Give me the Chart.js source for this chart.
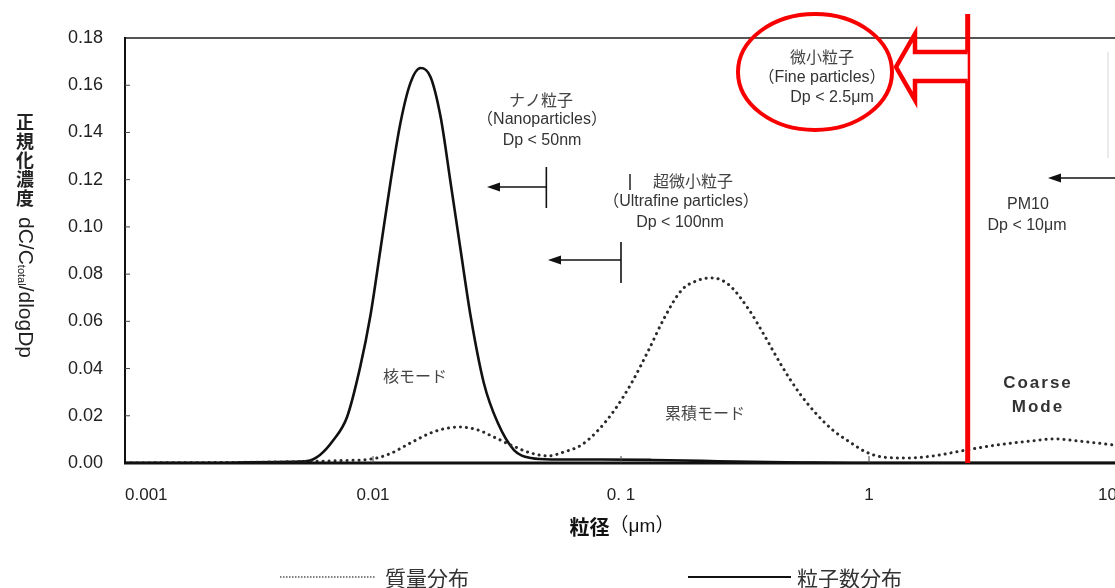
<!DOCTYPE html>
<html><head><meta charset="utf-8">
<script src="https://cdn.jsdelivr.net/npm/chart.js@4.4.1/dist/chart.umd.min.js"></script>
<style>
html,body{margin:0;padding:0;background:#fff;overflow:hidden;width:1115px;height:588px;}
#wrap{position:absolute;left:0;top:0;width:1140px;height:588px;}
</style></head><body>
<div id="wrap"><canvas id="c"></canvas></div>
<script>
// ---- data ----
const xTicks = [0.001, 0.01, 0.1, 1, 10];
const xTickLabels = ['0.001', '0.01', '0. 1', '1', '10'];
const yTicks = [0, 0.02, 0.04, 0.06, 0.08, 0.10, 0.12, 0.14, 0.16, 0.18];

// 粒子数分布 (number distribution, solid)
const numberSize  = [0.001, 0.0025, 0.00318, 0.00462, 0.00542, 0.00611, 0.0069, 0.00786, 0.00888, 0.00974, 0.0107, 0.01175, 0.0129, 0.01416, 0.01554, 0.01706, 0.01873, 0.02056, 0.02257, 0.02479, 0.02798, 0.03188, 0.03702, 0.04338, 0.05228, 0.0834, 0.1329, 0.212, 0.338, 0.539, 0.859, 10];
const numberValue = [0, 0, 0.0003, 0.0005, 0.0008, 0.0034, 0.0095, 0.0195, 0.0407, 0.0618, 0.090, 0.1186, 0.144, 0.161, 0.1673, 0.1635, 0.1466, 0.1186, 0.090, 0.0618, 0.0339, 0.0169, 0.0055, 0.0021, 0.0015, 0.0015, 0.0013, 0.0009, 0.0005, 0.0002, 0, 0];

// 質量分布 (mass distribution, dotted)
const massSize  = [0.001, 0.00318, 0.00507, 0.00737, 0.01002, 0.01175, 0.01416, 0.01706, 0.02, 0.02257, 0.02645, 0.03072, 0.03599, 0.04338, 0.05083, 0.05902, 0.06918, 0.08105, 0.09412, 0.1103, 0.1293, 0.1501, 0.1759, 0.2062, 0.2327, 0.2728, 0.3286, 0.3816, 0.4472, 0.5242, 0.6085, 0.7131, 0.8356, 0.9701, 1.137, 1.409, 1.813, 2.467, 3.264, 4.482, 5.555, 7.146, 10];
const massValue = [0, 0.0003, 0.0006, 0.001, 0.0018, 0.004, 0.0085, 0.0127, 0.0148, 0.0152, 0.014, 0.011, 0.0076, 0.0042, 0.003, 0.0047, 0.0076, 0.014, 0.0224, 0.0339, 0.0479, 0.0618, 0.0733, 0.0775, 0.0784, 0.0754, 0.0648, 0.0534, 0.0407, 0.0296, 0.0212, 0.014, 0.0089, 0.0047, 0.0025, 0.0021, 0.003, 0.0055, 0.0076, 0.0093, 0.0102, 0.0092, 0.0075];

const FONT = '"Liberation Sans", Arial, "Noto Sans CJK JP", sans-serif';
const JP = '"Noto Sans CJK JP", "Liberation Sans", sans-serif';
const RED = '#f80000';

function pts(xs, ys){ return xs.map((x,i)=>({x:x, y:ys[i]})); }

const annot = {
  id: 'annot',
  afterDraw(chart){
    const {ctx, chartArea:a, scales:{x:xs, y:ys}} = chart;
    const W = chart.width;
    ctx.save();
    function line(x1,y1,x2,y2){ ctx.beginPath(); ctx.moveTo(x1,y1); ctx.lineTo(x2,y2); ctx.stroke(); }
    function txt(s,x,y,font,color,align){ ctx.font=font; ctx.fillStyle=color; ctx.textAlign=align||'center'; ctx.textBaseline='middle'; ctx.fillText(s,x,y); }
    function arrowLeft(tipX, y, fromX){
      ctx.strokeStyle='#111'; ctx.lineWidth=1.6; line(tipX+8, y, fromX, y);
      ctx.fillStyle='#111'; ctx.beginPath(); ctx.moveTo(tipX,y); ctx.lineTo(tipX+13,y-4.5); ctx.lineTo(tipX+13,y+4.5); ctx.closePath(); ctx.fill();
    }
    // frame
    ctx.lineCap='butt';
    ctx.strokeStyle='#555'; ctx.lineWidth=2; line(a.left, a.top, W, a.top);
    ctx.strokeStyle='#111'; ctx.lineWidth=2; line(a.left, a.top-1, a.left, a.bottom);
    ctx.lineWidth=3; line(a.left-1, a.bottom, W, a.bottom);
    // inner ticks
    ctx.lineWidth=1; ctx.strokeStyle='#444';
    yTicks.slice(1, -1).forEach(v => { const p = ys.getPixelForValue(v); line(a.left, p, a.left+5, p); });
    xTicks.slice(1, -1).forEach(v => { const p = xs.getPixelForValue(v); line(p, a.bottom, p, a.bottom-7); });

    // Nanoparticles
    const L16 = '16px ' + FONT, J16 = '16px ' + JP;
    txt('ナノ粒子', 541, 100, J16, '#444');
    txt('（Nanoparticles）', 542, 120, L16, '#333');
    txt('Dp < 50nm', 542, 141, L16, '#333');
    const b1 = xs.getPixelForValue(0.05);
    ctx.strokeStyle='#111'; ctx.lineWidth=1.6; line(b1, 167, b1, 208);
    arrowLeft(487, 187, b1);
    // Ultrafine
    ctx.strokeStyle='#222'; ctx.lineWidth=1.5; line(630, 174, 630, 190);
    txt('超微小粒子', 693, 181, J16, '#444');
    txt('（Ultrafine particles）', 681, 202, L16, '#333');
    txt('Dp < 100nm', 680, 223, L16, '#333');
    const b2 = xs.getPixelForValue(0.1);
    ctx.strokeStyle='#111'; ctx.lineWidth=1.6; line(b2, 242, b2, 283);
    arrowLeft(548, 260, b2);
    // PM10
    txt('PM10', 1028, 205, L16, '#333');
    txt('Dp < 10μm', 1027, 226, L16, '#333');
    arrowLeft(1048, 178, W);
    ctx.strokeStyle='#e4e4e4'; ctx.lineWidth=1.5; line(1108, 52, 1108, 158);
    // modes
    txt('核モード', 415, 376, J16, '#444');
    txt('累積モード', 705, 413, J16, '#444');
    ctx.letterSpacing = '2px';
    txt('Coarse', 1038, 383, 'bold 17px ' + FONT, '#333');
    txt('Mode', 1038, 407, 'bold 17px ' + FONT, '#333');
    ctx.letterSpacing = '0px';

    // red PM2.5 boundary
    const r = xs.getPixelForValue(2.5);
    ctx.strokeStyle=RED; ctx.lineWidth=5; line(r, 14, r, a.bottom);
    // hollow arrow
    ctx.lineWidth=4.5; ctx.lineJoin='miter';
    ctx.beginPath();
    ctx.moveTo(r, 52); ctx.lineTo(915, 52); ctx.lineTo(915, 34); ctx.lineTo(896, 67);
    ctx.lineTo(915, 100); ctx.lineTo(915, 81); ctx.lineTo(r, 81);
    ctx.fillStyle='#fff'; ctx.fill(); ctx.stroke();
    // ellipse
    ctx.lineWidth=4; ctx.beginPath(); ctx.ellipse(815, 72, 77, 58, 0, 0, Math.PI*2); ctx.stroke();
    txt('微小粒子', 822, 57, J16, '#444');
    txt('（Fine particles）', 822, 78, L16, '#333');
    txt('Dp < 2.5μm', 832, 98, L16, '#333');

    // y-axis title
    const yc = ['正','規','化','濃','度'];
    yc.forEach((c,i) => txt(c, 25, 122 + i*19, 'bold 18px ' + JP, '#222'));
    ctx.save();
    ctx.translate(25, 217); ctx.rotate(Math.PI/2);
    ctx.font = '21px ' + FONT; ctx.fillStyle='#222'; ctx.textAlign='left'; ctx.textBaseline='middle';
    ctx.fillText('dC/C', 0, 0);
    let w = ctx.measureText('dC/C').width;
    ctx.font = '11px ' + FONT; ctx.fillText('total', w, 4);
    w += ctx.measureText('total').width;
    ctx.font = '21px ' + FONT; ctx.fillText('/dlogDp', w, 0);
    ctx.restore();

    // x-axis title
    ctx.font = 'bold 20px ' + JP;
    const t1 = '粒径', t2 = '（μm）';
    const w1 = ctx.measureText(t1).width;
    ctx.font = '19px ' + FONT;
    const w2 = ctx.measureText(t2).width;
    const sx = 622 - (w1 + w2)/2;
    txt(t1, sx, 527, 'bold 20px ' + JP, '#111', 'left');
    txt(t2, sx + w1, 527, '19px ' + FONT, '#111', 'left');

    // legend
    ctx.strokeStyle='#555'; ctx.lineWidth=1.5; ctx.setLineDash([1.5, 1.5]); line(280, 577, 376, 577);
    ctx.setLineDash([]);
    txt('質量分布', 385, 578, '21px ' + JP, '#333', 'left');
    ctx.strokeStyle='#111'; ctx.lineWidth=2; line(688, 577, 791, 577);
    txt('粒子数分布', 797, 578, '21px ' + JP, '#333', 'left');
    ctx.restore();
  }
};

new Chart(document.getElementById('c'), {
  type: 'line',
  data: {
    datasets: [
      { label: '質量分布', data: pts(massSize, massValue), borderColor: '#2a2a2a', borderWidth: 3,
        borderDash: [0.1, 5.9], borderCapStyle: 'round', pointRadius: 0, cubicInterpolationMode: 'monotone', fill: false },
      { label: '粒子数分布', data: pts(numberSize, numberValue), borderColor: '#111', borderWidth: 2.6,
        pointRadius: 0, cubicInterpolationMode: 'monotone', fill: false }
    ]
  },
  options: {
    responsive: true, maintainAspectRatio: false, animation: false,
    layout: { padding: { top: 38, right: 23, left: 0, bottom: 0 } },
    plugins: { legend: { display: false }, tooltip: { enabled: false } },
    scales: {
      x: {
        type: 'logarithmic', min: 0.001, max: 10,
        afterBuildTicks: s => { s.ticks = xTicks.map(v => ({ value: v })); },
        afterFit: s => { s.height = 125; },
        ticks: { callback: v => { const i = xTicks.indexOf(v); return i >= 0 ? xTickLabels[i] : ''; },
                 font: { size: 17, family: FONT }, color: '#222', padding: 22, maxRotation: 0, autoSkip: false, align: 'inner' },
        grid: { display: false, drawTicks: false }, border: { display: false }
      },
      y: {
        min: 0, max: 0.18,
        afterBuildTicks: s => { s.ticks = yTicks.map(v => ({ value: v })); },
        afterFit: s => { s.width = 125; },
        ticks: { callback: v => v.toFixed(2), font: { size: 18, family: FONT }, color: '#222', padding: 22 },
        grid: { display: false, drawTicks: false }, border: { display: false }
      }
    }
  },
  plugins: [annot]
});
</script>
</body></html>
